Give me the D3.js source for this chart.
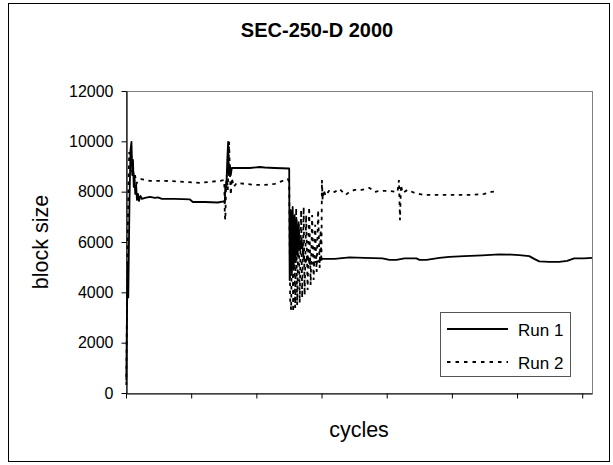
<!DOCTYPE html>
<html>
<head>
<meta charset="utf-8">
<script src="https://cdn.jsdelivr.net/npm/d3@7"></script>
<style>
	body { margin: 0; background: #fff; }
	svg { display: block; font-family: "Liberation Sans", Arial, sans-serif; }
</style>
</head>
<body>
<svg id="chart"></svg>
<script>
var width = 613;
var height = 465;

var title = "SEC-250-D 2000";
var xTitle = "cycles";
var yTitle = "block size";
var seriesNames = ["Run 1", "Run 2"];

var yTicks = [0, 2000, 4000, 6000, 8000, 10000, 12000];
var xTicks = [0, 1000, 2000, 3000, 4000, 5000, 6000, 7000];

// [cycle, block size]
var run1 = [
	[5, 500], [12, 2500], [20, 4100], [28, 5200], [35, 3800], [43, 5500],
	[54, 7670], [69, 9660], [84, 9980], [96, 8660], [107, 9260], [119, 8190],
	[130, 8620], [142, 7910], [156, 8230], [168, 7670], [184, 7910], [199, 7630],
	[222, 7830], [245, 7710], [291, 7750], [368, 7790], [444, 7750], [490, 7770],
	[551, 7710], [750, 7710], [980, 7690], [1026, 7590], [1210, 7590], [1409, 7570],
	[1501, 7610], [1516, 7550], [1524, 8270], [1539, 8150], [1554, 9260], [1567, 9980],
	[1577, 8660], [1593, 9060], [1608, 8660], [1623, 8940], [1669, 8940], [1899, 8940],
	[2052, 8980], [2129, 8960], [2282, 8940], [2504, 8920],
	[2511, 4490], [2527, 7270], [2542, 4690], [2557, 7390], [2573, 4890], [2588, 7070],
	[2603, 5210], [2619, 6870], [2634, 5480], [2649, 6680], [2672, 5680], [2695, 6080],
	[2726, 5370], [2757, 5210], [2787, 5440], [2818, 5130], [2864, 5170], [2910, 5210],
	[2971, 5250], [3017, 5330], [3201, 5330], [3430, 5390], [3660, 5370], [3936, 5350],
	[4043, 5290], [4150, 5290], [4273, 5350], [4456, 5350], [4502, 5290], [4610, 5290],
	[4809, 5370], [4962, 5410], [5191, 5440], [5467, 5470], [5727, 5510], [5911, 5500],
	[6034, 5480], [6187, 5440], [6263, 5330], [6340, 5230], [6493, 5210], [6646, 5210],
	[6769, 5250], [6876, 5350], [7029, 5350], [7150, 5370]
];

var run2 = [
	[5, 320], [12, 2500], [20, 4490], [28, 6480], [38, 8270], [49, 9580],
	[61, 9260], [77, 9660], [92, 8780], [107, 9060], [123, 8390], [138, 8660],
	[161, 8310], [184, 8460], [230, 8500], [368, 8430], [597, 8430], [903, 8390],
	[1133, 8350], [1286, 8390], [1440, 8430], [1508, 8460], [1516, 7070], [1524, 6870],
	[1536, 8270], [1547, 8660], [1562, 8070], [1582, 9980], [1593, 8860], [1608, 7870],
	[1623, 8540], [1654, 8190], [1700, 8350], [1822, 8310], [1976, 8270], [2129, 8270],
	[2282, 8310], [2404, 8430], [2481, 8500], [2504, 8390],
	[2519, 3700], [2534, 3300], [2550, 7270], [2565, 3220], [2580, 7070], [2596, 3380],
	[2611, 7350], [2626, 3500], [2649, 6870], [2665, 3580], [2687, 7270], [2703, 3780],
	[2726, 7390], [2741, 3890], [2764, 7070], [2787, 4090], [2810, 7390], [2833, 4290],
	[2856, 7070], [2879, 4490], [2902, 6680], [2925, 4810], [2948, 7270], [2971, 4970],
	[2986, 6480], [2998, 5210], [3006, 8460], [3017, 7670], [3032, 8070], [3063, 7830],
	[3124, 8070], [3201, 7990], [3277, 8110], [3369, 7870], [3430, 7990], [3507, 8070],
	[3614, 8070], [3737, 8150], [3813, 7990], [3890, 8030], [4043, 8030], [4165, 7990],
	[4188, 8460], [4204, 6870], [4219, 8270], [4242, 7950], [4319, 8070], [4426, 7950],
	[4579, 7870], [4809, 7870], [5038, 7870], [5268, 7870], [5498, 7910], [5605, 7990],
	[5697, 8010]
];

var plot = {left: 126, right: 592, top: 91, bottom: 393};

var x = d3.scaleLinear()
.domain([0, 7150])
.range([plot.left, plot.right]);

var y = d3.scaleLinear()
.domain([0, 12000])
.range([plot.bottom, plot.top]);

var svg = d3.select("#chart")
.attr("width", width)
.attr("height", height);

// chart area frame
svg.append("rect")
.attr("x", 8.5)
.attr("y", 3.5)
.attr("width", 601)
.attr("height", 458)
.style("fill", "#fff")
.style("stroke", "#000")
.style("stroke-width", 1);

// plot area border
svg.append("rect")
.attr("x", plot.left + 0.5)
.attr("y", plot.top + 0.5)
.attr("width", plot.right - plot.left)
.attr("height", plot.bottom - plot.top)
.style("fill", "none")
.style("stroke", "#808080")
.style("stroke-width", 1);

svg.append("text")
.attr("x", 317)
.attr("y", 37)
.style("text-anchor", "middle")
.style("font-size", "20px")
.style("font-weight", "bold")
.text(title);

var yAxis = svg.append("g")
.attr("transform", "translate(" + (plot.left + 0.5) + ",0)")
.call(d3.axisLeft(y)
	.tickValues(yTicks)
	.tickFormat(d3.format("d"))
	.tickSize(5)
	.tickPadding(8)
	.tickSizeOuter(0));

yAxis.selectAll("text")
.style("font-family", "'Liberation Sans', Arial, sans-serif")
.style("font-size", "16px")
.style("fill", "#000");

var xAxis = svg.append("g")
.attr("transform", "translate(0," + (plot.bottom + 0.5) + ")")
.call(d3.axisBottom(x).tickValues(xTicks).tickSize(5).tickFormat("").tickSizeOuter(0));

svg.selectAll(".domain")
.style("stroke", "#000")
.style("stroke-width", 1.2);

svg.selectAll(".tick line")
.style("stroke", "#000");

svg.append("text")
.attr("transform", "translate(48," + ((plot.top + plot.bottom) / 2) + ") rotate(-90)")
.style("text-anchor", "middle")
.style("font-size", "21.5px")
.text(yTitle);

svg.append("text")
.attr("x", (plot.left + plot.right) / 2)
.attr("y", 437)
.style("text-anchor", "middle")
.style("font-size", "21.5px")
.text(xTitle);

var line = d3.line()
.x(function (d) { return x(d[0]); })
.y(function (d) { return y(d[1]); });

svg.append("path")
.datum(run2)
.attr("d", line)
.style("fill", "none")
.style("stroke", "#000")
.style("stroke-width", 1.8)
.style("stroke-dasharray", "3.5,4.5");

svg.append("path")
.datum(run1)
.attr("d", line)
.style("fill", "none")
.style("stroke", "#000")
.style("stroke-width", 1.8)
.style("stroke-linejoin", "round");

// legend
var legend = svg.append("g");

legend.append("rect")
.attr("x", 440.5)
.attr("y", 312.5)
.attr("width", 130)
.attr("height", 64)
.style("fill", "#fff")
.style("stroke", "#555")
.style("stroke-width", 1);

function appendLegendItem (i, dash) {
	var cy = 329 + i * 33;

	legend.append("line")
	.attr("x1", 447)
	.attr("x2", 508)
	.attr("y1", cy)
	.attr("y2", cy)
	.style("stroke", "#000")
	.style("stroke-width", 1.8)
	.style("stroke-dasharray", dash);

	legend.append("text")
	.attr("x", 518)
	.attr("y", cy + 6.5)
	.style("font-size", "17px")
	.text(seriesNames[i]);
}

appendLegendItem(0, null);
appendLegendItem(1, "3.5,5");
</script>
</body>
</html>
